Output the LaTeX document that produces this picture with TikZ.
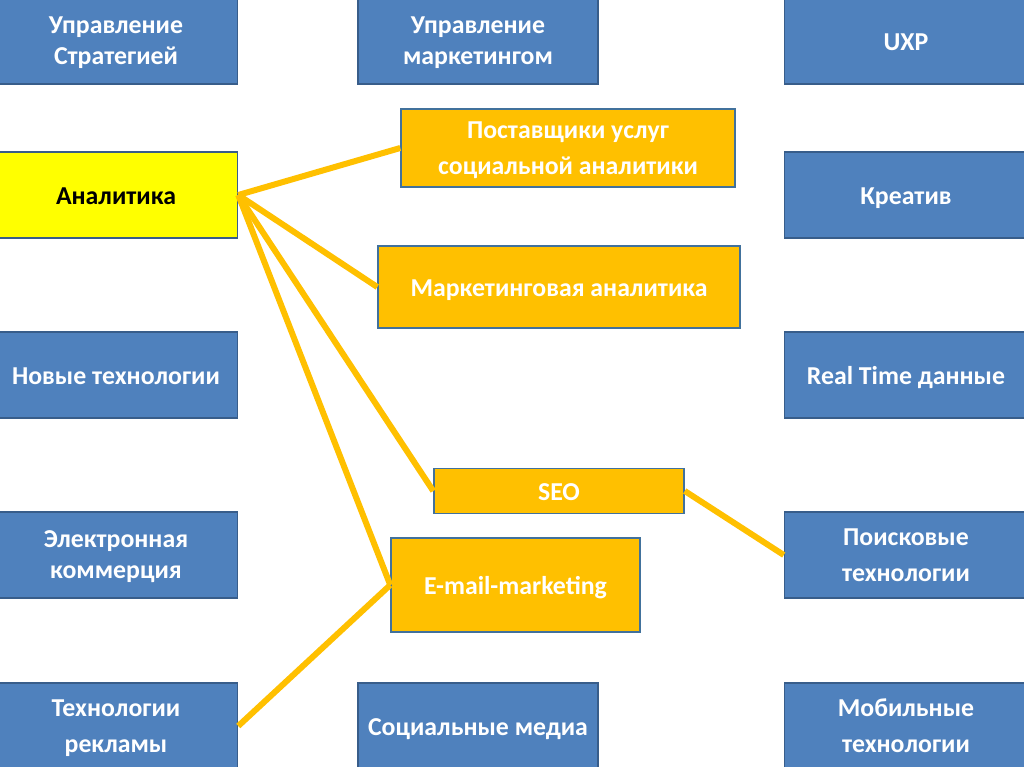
\documentclass[tikz,border=0pt]{standalone}
\usepackage{fontspec}
\setmainfont{Carlito}
\definecolor{topicblue}{HTML}{4F81BD}
\definecolor{topicedge}{HTML}{385D8A}
\definecolor{subgold}{HTML}{FFC000}
\definecolor{subedge}{HTML}{41719C}
\definecolor{mainyellow}{HTML}{FFFF00}

\begin{document}
\begin{tikzpicture}[x=1pt,y=-1pt,
	topic/.style={draw=topicedge,line width=1.5pt,fill=topicblue,text=white,
		font=\fontsize{25.8}{36}\selectfont\bfseries,align=center,inner sep=0pt,
		minimum width=243pt,minimum height=86pt,text height=19pt,text depth=0pt},
	sub/.style={draw=subedge,line width=1.5pt,fill=subgold,text=white,
		font=\fontsize{25.8}{36}\selectfont\bfseries,align=center,inner sep=0pt,
		text height=19pt,text depth=0pt},
	twolines/.style={text height=53pt,text depth=0pt},
	tight/.style={font=\fontsize{25.8}{31}\selectfont\bfseries,text height=47pt,text depth=0pt},
	link/.style={draw=subgold,line width=6pt}]
	\clip (0,0) rectangle (1024,767);
	\fill[white] (0,0) rectangle (1024,767);
				% left column
				\node[topic,tight](strat) at (116,41)   {Управление\\Стратегией};
				\node[topic,fill=mainyellow,text=black](analit) at (116,195) {Аналитика};
				\node[topic](newtech) at (116,375)  {Новые технологии};
				\node[topic,tight](ecom) at (116,555)   {Электронная\\коммерция};
				\node[topic,twolines](adtech) at (116,726)   {Технологии\\рекламы};
				% middle column
				\node[topic,minimum width=240pt,tight](mktmgmt) at (478,41) {Управление\\маркетингом};
				\node[topic,minimum width=240pt](socmedia) at (478,726) {Социальные медиа};
				% right column
				\node[topic](uxp) at (906,41)       {UXP};
				\node[topic](creative) at (906,195) {Креатив};
				\node[topic](realtime) at (906,375) {Real Time данные};
				\node[topic,twolines](search) at (906,555)   {Поисковые\\технологии};
				\node[topic,twolines](mobile) at (906,726)   {Мобильные\\технологии};
				% analytics areas
				\node[sub,twolines,minimum width=334pt,minimum height=78pt](provid) at (568,148) {Поставщики услуг\\социальной аналитики};
				\node[sub,minimum width=362pt,minimum height=82pt](mkta) at (559,287) {Маркетинговая аналитика};
				\node[sub,minimum width=250pt,minimum height=45pt](seo) at (559,491) {SEO};
				\node[sub,minimum width=249pt,minimum height=94pt](email) at (515.5,585) {E-mail-marketing};
			 	\draw[link](analit.east) -- (provid.west);
			 	\draw[link](analit.east) -- (mkta.west);
			 	\draw[link](analit.east) -- (seo.west);
			 	\draw[link](analit.east) -- (email.west);
			 	\draw[link](email.west) -- (adtech.east);
			 	\draw[link](seo.east) -- (search.west);
			\end{tikzpicture}
\end{document}
